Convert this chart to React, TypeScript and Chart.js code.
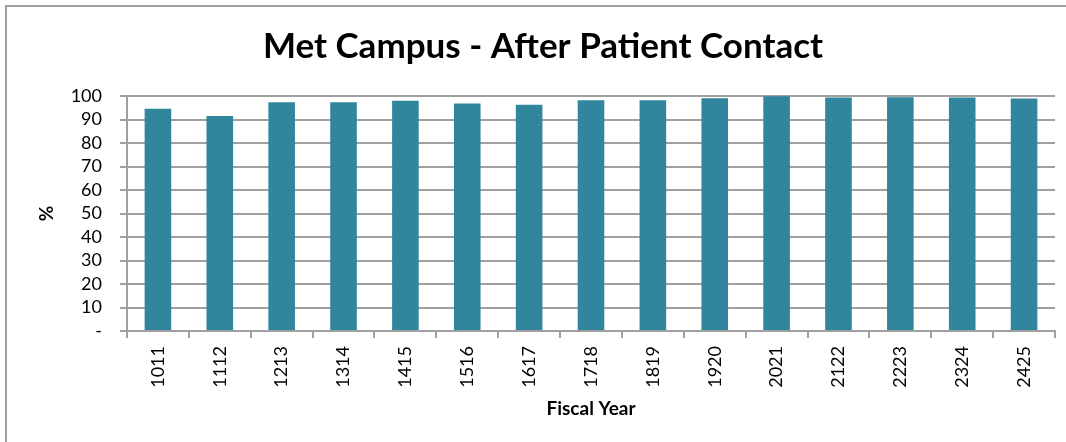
import React, { useEffect, useRef } from "react";
import { Chart, registerables } from "chart.js";

Chart.register(...registerables);

const categories = ["1011", "1112", "1213", "1314", "1415", "1516", "1617", "1718", "1819", "1920", "2021", "2122", "2223", "2324", "2425"];
const values = [94.6, 91.5, 97.3, 97.3, 98.0, 96.8, 96.3, 98.2, 98.2, 99.0, 99.9, 99.4, 99.5, 99.4, 98.9];
const yTicks = [0, 10, 20, 30, 40, 50, 60, 70, 80, 90, 100];

const titleText = "Met Campus - After Patient Contact";
const yTitle = "%";
const xTitle = "Fiscal Year";

const FONT = "Lato, 'Open Sans', sans-serif";
const GRID = "#a0a0a0";
const BAR = "#31859c";

export default function App() {
  const ref = useRef<HTMLCanvasElement | null>(null);
  useEffect(() => {
    document.body.style.margin = "0";
    const canvas = ref.current!;
    const framePlugin = {
      id: "frame",
      afterDraw(chart: any) {
        const ctx = chart.ctx;
        ctx.save();
        ctx.strokeStyle = GRID;
        ctx.lineWidth = 2;
        ctx.beginPath();
        ctx.moveTo(6, 442);
        ctx.lineTo(6, 6);
        ctx.lineTo(1066, 6);
        ctx.stroke();
        ctx.fillStyle = "#000";
        ctx.font = `bold 35px ${FONT}`;
        ctx.textAlign = "center";
        ctx.textBaseline = "middle";
        ctx.fillText(titleText, 543, 47);
        ctx.restore();
      },
    };
    const chart = new Chart(canvas, {
      type: "bar",
      data: {
        labels: categories,
        datasets: [
          {
            data: values,
            backgroundColor: BAR,
            barPercentage: 0.43,
            categoryPercentage: 1,
          },
        ],
      },
      options: {
        animation: false,
        responsive: false,
        layout: { padding: { top: 96, right: 11, left: 0, bottom: 0 } },
        plugins: { legend: { display: false }, tooltip: { enabled: false }, title: { display: false } },
        scales: {
          x: {
            afterFit: (s: any) => { s.height = 111; },
            grid: { drawOnChartArea: false, offset: true, tickLength: 7, color: GRID, lineWidth: 2 },
            border: { color: GRID, width: 2 },
            ticks: { autoSkip: false, minRotation: 90, maxRotation: 90, padding: 8, color: "#000", font: { family: FONT, size: 18 } },
            title: { display: true, text: xTitle, color: "#000", font: { family: FONT, size: 19, weight: "bold" }, padding: { top: 0, bottom: 22 } },
          },
          y: {
            min: 0,
            max: 100,
            afterFit: (s: any) => { s.width = 127; },
            afterBuildTicks: (s: any) => { s.ticks = yTicks.map((v) => ({ value: v })); },
            grid: { tickLength: 7, color: GRID, lineWidth: 2 },
            border: { color: GRID, width: 2 },
            ticks: {
              autoSkip: false,
              padding: 18,
              color: "#000",
              font: { family: FONT, size: 18, lineHeight: 1 },
              callback: (v: any) => (Number(v) === 0 ? "-" : String(v)),
            },
            title: { display: true, text: yTitle, color: "#000", font: { family: FONT, size: 19, weight: "bold" }, padding: { top: 35, bottom: 0 } },
          },
        },
      },
      plugins: [framePlugin],
    });
    return () => chart.destroy();
  }, []);
  return (
    <div style={{ width: 1066, height: 442 }}>
      <canvas ref={ref} width={1066} height={442} style={{ width: 1066, height: 442, display: "block" }} />
    </div>
  );
}
